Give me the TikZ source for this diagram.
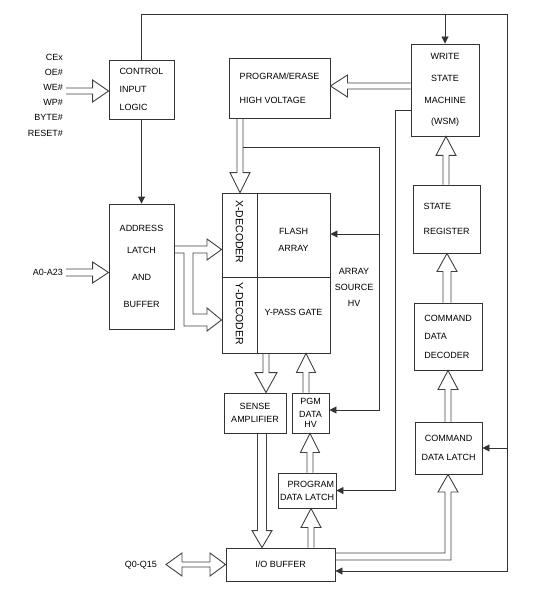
\documentclass[tikz,border=0pt]{standalone}
\usepackage{fontspec}
\setmainfont{Liberation Sans}
\usetikzlibrary{arrows.meta,calc}
\newcommand{\hollowarrow}[5]{%
  \coordinate (hA) at ($(#2)!#5!(#1)$);
  \draw[harrow] ($(#1)!#3!90:(#2)$) -- ($(hA)!#3!90:(#2)$) -- ($(hA)!#4!90:(#2)$) -- (#2) -- ($(hA)!#4!-90:(#2)$) -- ($(hA)!#3!-90:(#2)$) -- ($(#1)!#3!-90:(#2)$);}
\begin{document}
\begin{tikzpicture}[x=1pt,y=-1pt,
  box/.style={draw=black!80,line width=0.9pt,inner sep=0pt,font=\fontsize{9}{10}\selectfont,align=center},
  lbl/.style={inner sep=0pt,font=\fontsize{9}{10}\selectfont,align=center},
  conn/.style={draw=black!80,line width=0.9pt},
  sig/.style={conn,-{Triangle[length=7pt,width=7pt]}},
  harrow/.style={draw=black!75,line width=0.9pt,line join=miter}]
\useasboundingbox (0,0) rectangle (548,596);

% boxes
\node[box,minimum width=65pt,minimum height=59pt,align=left] (ctrl) at (141.5,89.5) {CONTROL\\[8pt]INPUT\\[8pt]LOGIC};
\node[box,minimum width=65pt,minimum height=125pt] (addr) at (141.5,266.5) {ADDRESS\\[12pt]LATCH\\[17pt]AND\\[17pt]BUFFER};
\node[box,minimum width=101pt,minimum height=60pt,align=left] (pe) at (279.5,88) {PROGRAM/ERASE\\[14pt]HIGH VOLTAGE};
\node[box,minimum width=68pt,minimum height=92pt] (wsm) at (445,90) {WRITE\\[11.7pt]STATE\\[11.7pt]MACHINE\\[11.7pt](WSM)};
\node[box,minimum width=67pt,minimum height=68pt,align=left] (sr) at (446.5,219) {STATE\\[15pt]REGISTER};
\node[box,minimum width=68pt,minimum height=67pt,align=left] (cdd) at (448,336.5) {COMMAND\\[8.5pt]DATA\\[8.5pt]DECODER};
\node[box,minimum width=67pt,minimum height=52pt] (cdl) at (448.5,448) {COMMAND\\[9pt]DATA LATCH};
\node[box,minimum width=108pt,minimum height=160pt] (arr) at (276,273) {};
\node[box,minimum width=62pt,minimum height=40pt] (sense) at (255,413) {SENSE\\[3pt]AMPLIFIER};
\node[box,minimum width=37pt,minimum height=40pt] (pgm) at (310.5,413) {PGM\\[3pt]DATA\\[0pt]HV};
\node[box,minimum width=58pt,minimum height=35pt,align=right] (pdl) at (307,490.5) {PROGRAM\\[3pt]DATA LATCH};
\node[box,minimum width=109pt,minimum height=33pt] (io) at (280.5,564.5) {I/O BUFFER};

% array dividers
\draw[conn] ([xshift=-19pt]arr.north) -- ([xshift=-19pt]arr.south);
\draw[conn] ([yshift=-4pt]arr.west) -- ([yshift=-4pt]arr.east);

% labels
\node[lbl] (flash) at (293.5,239.5) {FLASH\\[7pt]ARRAY};
\node[lbl] (ypass) at (293.5,312) {Y-PASS GATE};
\node[lbl,rotate=-90,font=\fontsize{10.5}{12}\selectfont] (xdec) at (239.5,232) {X-DECODER};
\node[lbl,rotate=-90,font=\fontsize{10.5}{12}\selectfont] (ydec) at (239.5,314) {Y-DECODER};
\node[lbl] (ash) at (354,287) {ARRAY\\[6pt]SOURCE\\[6pt]HV};
\node[lbl,align=right,anchor=east,font=\fontsize{9}{15.2}\selectfont] (sigs) at (63,95) {CEx\\OE\#\\WE\#\\WP\#\\BYTE\#\\RESET\#};
\node[lbl,anchor=east] (alab) at (63,272) {A0-A23};
\node[lbl,anchor=east] (qlab) at (157,565) {Q0-Q15};

% single-line connectors
\coordinate (tr) at (507,14);
\coordinate (br) at (507,571);
\draw[sig] (ctrl.north) |- (tr) -- (br) -- (io.east |- br);
\draw[sig] (wsm.north |- tr) -- (wsm.north);
\draw[sig] (tr |- cdl.east) -- (cdl.east);
\draw[sig] (ctrl.south) -- (addr.north);
\coordinate (hvl) at (243,147);
\coordinate (hvr) at (379,147);
\draw[sig] (hvl) -- (hvr) |- ([yshift=3pt]pgm.east);
\coordinate (fa) at (379,234);
\draw[sig] (fa) -- (fa -| arr.east);
\coordinate (wl) at (395,110);
\draw[sig] (wl -| wsm.west) -- (wl) |- (pdl.east);

% hollow arrows
\coordinate (h1a) at (wsm.west |- 0,86); \coordinate (h1b) at (pe.east |- 0,86);
\hollowarrow{h1a}{h1b}{3pt}{11pt}{17pt}
\coordinate (h2a) at (pe.south -| 240,0); \coordinate (h2b) at (arr.north -| 240,0);
\hollowarrow{h2a}{h2b}{3pt}{10pt}{20pt}
\coordinate (h3a) at (sr.north -| 446,0); \coordinate (h3b) at (wsm.south -| 446,0);
\hollowarrow{h3a}{h3b}{3pt}{10pt}{19pt}
\coordinate (h4a) at (cdd.north -| 447,0); \coordinate (h4b) at (sr.south -| 447,0);
\hollowarrow{h4a}{h4b}{4pt}{10pt}{18pt}
\coordinate (h5a) at (cdl.north -| 448,0); \coordinate (h5b) at (cdd.south -| 448,0);
\hollowarrow{h5a}{h5b}{3pt}{10pt}{19pt}
\coordinate (h6a) at (arr.south -| 266,0); \coordinate (h6b) at (sense.north -| 266,0);
\hollowarrow{h6a}{h6b}{3pt}{11pt}{20pt}
\coordinate (h7a) at (pgm.north -| 306,0); \coordinate (h7b) at (arr.south -| 306,0);
\hollowarrow{h7a}{h7b}{3pt}{9.5pt}{19pt}
\coordinate (h8a) at (pdl.north -| 310,0); \coordinate (h8b) at (pgm.south -| 310,0);
\hollowarrow{h8a}{h8b}{3pt}{9.5pt}{19pt}
\coordinate (h9a) at (io.north -| 311,0); \coordinate (h9b) at (pdl.south -| 311,0);
\hollowarrow{h9a}{h9b}{3pt}{10pt}{19pt}
\coordinate (h10a) at (sense.south -| 262,0); \coordinate (h10b) at (io.north -| 262,0);
\hollowarrow{h10a}{h10b}{4.5pt}{10pt}{17pt}
\coordinate (h11a) at (66,91); \coordinate (h11b) at (ctrl.west |- 0,91);
\hollowarrow{h11a}{h11b}{3pt}{11pt}{16pt}
\coordinate (h12a) at (66,272.5); \coordinate (h12b) at (addr.west |- 0,272.5);
\hollowarrow{h12a}{h12b}{3.5pt}{10.5pt}{16pt}

% address latch to decoders (branching)
\draw[harrow] (addr.east |- 0,246) -- (207,246) -- (207,239) -- (arr.west |- 0,249.5) -- (207,260) -- (207,253) -- (193,253) -- (193,314) -- (207,314) -- (207,308) -- (arr.west |- 0,320) -- (207,331) -- (207,326) -- (184,326) -- (184,253) -- (addr.east |- 0,253);

% Q0-Q15 bidirectional
\coordinate (qtip) at (166,564.5);
\draw[harrow] (qtip) -- (182,553) -- (182,562) -- (210,562) -- (210,553) -- (io.west) -- (210,576) -- (210,567) -- (182,567) -- (182,576) -- cycle;

% I/O buffer to command data latch
\draw[harrow] (io.east |- 0,553) -- (445,553) -- (445,492) -- (438,492) -- (cdl.south -| 448,0) -- (458,492) -- (451,492) -- (451,560) -- (io.east |- 0,560);
\end{tikzpicture}
\end{document}
